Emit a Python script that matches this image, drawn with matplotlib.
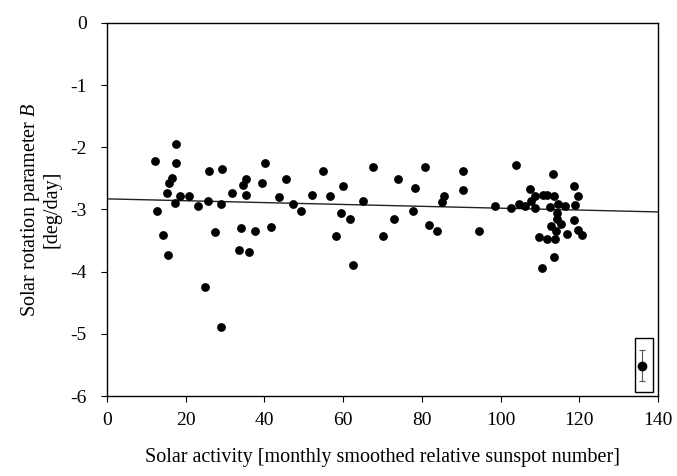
import numpy as np
import matplotlib
matplotlib.use('Agg')
import matplotlib.pyplot as plt
from matplotlib.patches import Rectangle

# sunspot number vs rotation parameter B
sunspot = [17.5, 12.3, 17.5, 25.8, 29.1, 40.1, 16.4, 15.8, 35.2, 34.6,
           39.3, 45.4, 15.2, 18.6, 20.9, 31.7, 35.4, 43.8, 17.2, 23.1,
           25.6, 29.0, 12.7, 14.2, 27.5, 34.0, 37.5, 41.7, 33.6, 36.0,
           15.5, 24.9, 28.9,
           54.8, 67.6, 80.7, 90.4, 74.0, 60.0, 78.3, 90.4, 52.0, 56.7,
           85.5, 47.2, 65.0, 85.1, 49.3, 59.5, 77.8, 61.7, 73.0, 81.9,
           83.8, 58.3, 70.1, 62.5,
           103.9, 113.3, 118.6, 119.7, 107.5, 108.7, 110.9, 111.7, 113.5,
           107.7, 104.7, 106.1, 108.7, 98.6, 102.6, 112.6, 114.5, 116.3,
           119.0, 114.4, 114.4, 115.4, 118.7, 112.9, 114.0, 116.8, 119.7,
           120.7, 109.8, 111.9, 113.9, 94.6, 113.5, 110.4]
param_b = [-1.94, -2.22, -2.25, -2.39, -2.35, -2.26, -2.50, -2.58, -2.51, -2.61,
           -2.57, -2.51, -2.74, -2.79, -2.79, -2.73, -2.77, -2.80, -2.90, -2.94,
           -2.86, -2.92, -3.02, -3.41, -3.37, -3.30, -3.35, -3.29, -3.65, -3.68,
           -3.74, -4.25, -4.89,
           -2.38, -2.32, -2.32, -2.38, -2.51, -2.62, -2.66, -2.69, -2.76, -2.78,
           -2.79, -2.91, -2.86, -2.88, -3.02, -3.05, -3.03, -3.16, -3.15, -3.25,
           -3.35, -3.43, -3.42, -3.90,
           -2.29, -2.43, -2.63, -2.78, -2.67, -2.79, -2.76, -2.76, -2.79,
           -2.87, -2.91, -2.94, -2.98, -2.95, -2.98, -2.96, -2.92, -2.94,
           -2.93, -3.05, -3.15, -3.23, -3.17, -3.27, -3.34, -3.39, -3.33,
           -3.41, -3.44, -3.47, -3.47, -3.35, -3.76, -3.94]

# linear trend line endpoints
trend_x = [0, 140]
trend_y = [-2.83, -3.04]

# typical error shown in the corner box
err_x = 135.9
err_y = -5.51
err_size = 0.25
box_x = [134.1, 138.6]
box_y = [-5.94, -5.07]

plt.rcParams['font.family'] = ['Liberation Serif', 'DejaVu Serif']
plt.rcParams['mathtext.fontset'] = 'custom'
plt.rcParams['mathtext.it'] = 'Liberation Serif:italic'
plt.rcParams['mathtext.rm'] = 'Liberation Serif'

fig = plt.figure(figsize=(6.77, 4.76), dpi=100)
ax = fig.add_axes([0.158, 0.168, 0.814, 0.784])

ax.plot(trend_x, trend_y, color='#222222', lw=1.0, zorder=2)
ax.scatter(sunspot, param_b, s=40, color='black', zorder=3, linewidths=0)

ax.add_patch(Rectangle((box_x[0], box_y[0]), box_x[1] - box_x[0], box_y[1] - box_y[0],
                       fill=False, edgecolor='black', lw=1.0, zorder=2))
ax.errorbar(err_x, err_y, yerr=err_size, fmt='o', color='black', ms=6,
            ecolor='#555555', elinewidth=0.8, capsize=2.5, capthick=0.8, zorder=3)

ax.set_xlim(0, 140)
ax.set_ylim(-6, 0)
ax.set_xticks(np.arange(0, 141, 20))
ax.set_yticks(np.arange(-6, 0.1, 1))
ax.set_yticklabels([str(int(v)) for v in np.arange(-6, 0.1, 1)])
ax.tick_params(direction='out', length=4.5, width=0.8, labelsize=14, pad=7)
ax.tick_params(axis='y', pad=10)
for s in ax.spines.values():
    s.set_linewidth(1.0)

ax.set_xlabel('Solar activity [monthly smoothed relative sunspot number]', fontsize=14.5, labelpad=14)
ax.set_ylabel('Solar rotation parameter $B$\n[deg/day]', fontsize=14.5, labelpad=6,
              linespacing=1.1)

fig.savefig('out.png', dpi=100)
